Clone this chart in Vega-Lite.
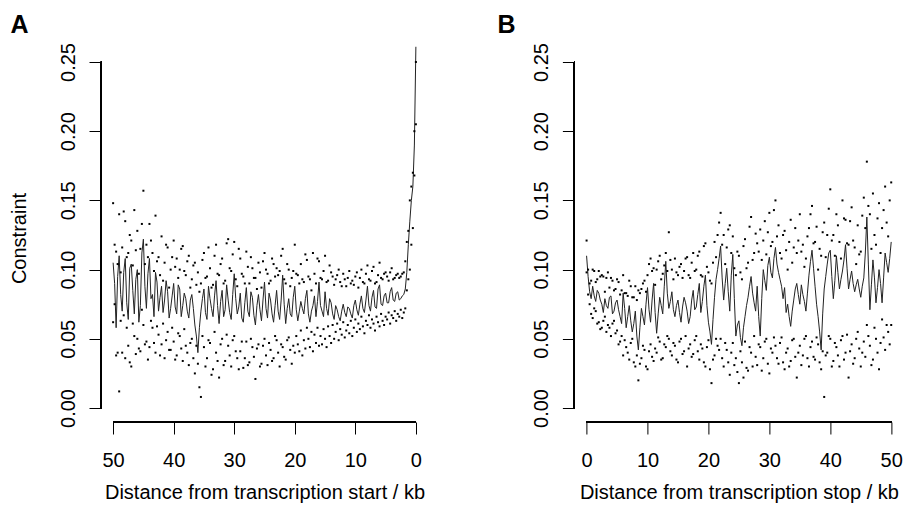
{
  "$schema": "https://vega.github.io/schema/vega-lite/v6.json",
  "background": "white",
  "padding": {"left": 9, "top": 12, "right": 0, "bottom": 0},
  "config": {
    "view": {"stroke": null},
    "font": "Liberation Sans",
    "axis": {"domain": false, "grid": false, "tickColor": "black", "tickSize": 12, "tickWidth": 1, "labelFont": "Liberation Sans", "labelFontSize": 20, "labelColor": "black", "labelFlush": false, "labelOverlap": false, "titleFont": "Liberation Sans", "titleFontSize": 20, "titleFontWeight": "normal", "titleColor": "black"},
    "axisX": {"labelPadding": 16},
    "axisY": {"labelAngle": 270, "labelAlign": "center", "labelBaseline": "alphabetic", "labelPadding": 15}
  },
  "datasets": {
    "a": [
      {"d":50,"m":0.105,"u":0.148,"l":0.062},{"d":49.75,"m":0.090,"u":0.118,"l":0.075},{"d":49.5,"m":0.058,"u":0.113,"l":0.038},{"d":49.25,"m":0.095,"u":0.104,"l":0.040},
      {"d":49,"m":0.110,"u":0.140,"l":0.012},{"d":48.75,"m":0.082,"u":0.098,"l":0.063},{"d":48.5,"m":0.070,"u":0.116,"l":0.040},{"d":48.25,"m":0.098,"u":0.142,"l":0.067},
      {"d":48,"m":0.108,"u":0.135,"l":0.036},{"d":47.75,"m":0.076,"u":0.109,"l":0.058},{"d":47.5,"m":0.064,"u":0.112,"l":0.045},{"d":47.25,"m":0.101,"u":0.125,"l":0.033},
      {"d":47,"m":0.104,"u":0.121,"l":0.030},{"d":46.75,"m":0.085,"u":0.103,"l":0.061},{"d":46.5,"m":0.068,"u":0.143,"l":0.052},{"d":46.25,"m":0.093,"u":0.114,"l":0.039},
      {"d":46,"m":0.100,"u":0.128,"l":0.050},{"d":45.75,"m":0.062,"u":0.097,"l":0.043},{"d":45.5,"m":0.074,"u":0.115,"l":0.041},{"d":45.25,"m":0.112,"u":0.133,"l":0.071},
      {"d":45,"m":0.122,"u":0.157,"l":0.060},{"d":44.75,"m":0.088,"u":0.104,"l":0.046},{"d":44.5,"m":0.072,"u":0.118,"l":0.048},{"d":44.25,"m":0.097,"u":0.109,"l":0.035},
      {"d":44,"m":0.108,"u":0.133,"l":0.044},{"d":43.75,"m":0.079,"u":0.121,"l":0.063},{"d":43.5,"m":0.082,"u":0.112,"l":0.058},{"d":43.25,"m":0.066,"u":0.099,"l":0.047},
      {"d":43,"m":0.098,"u":0.139,"l":0.040},{"d":42.75,"m":0.091,"u":0.106,"l":0.059},{"d":42.5,"m":0.070,"u":0.109,"l":0.053},{"d":42.25,"m":0.080,"u":0.096,"l":0.038},
      {"d":42,"m":0.088,"u":0.124,"l":0.046},{"d":41.75,"m":0.069,"u":0.092,"l":0.061},{"d":41.5,"m":0.078,"u":0.105,"l":0.036},{"d":41.25,"m":0.092,"u":0.118,"l":0.049},
      {"d":41,"m":0.084,"u":0.116,"l":0.055},{"d":40.75,"m":0.065,"u":0.087,"l":0.042},{"d":40.5,"m":0.072,"u":0.100,"l":0.042},{"d":40.25,"m":0.081,"u":0.109,"l":0.058},
      {"d":40,"m":0.090,"u":0.121,"l":0.048},{"d":39.75,"m":0.073,"u":0.102,"l":0.035},{"d":39.5,"m":0.068,"u":0.108,"l":0.038},{"d":39.25,"m":0.089,"u":0.094,"l":0.054},
      {"d":39,"m":0.086,"u":0.100,"l":0.052},{"d":38.75,"m":0.066,"u":0.115,"l":0.043},{"d":38.5,"m":0.074,"u":0.117,"l":0.034},{"d":38.25,"m":0.083,"u":0.099,"l":0.057},
      {"d":38,"m":0.079,"u":0.096,"l":0.045},{"d":37.75,"m":0.070,"u":0.106,"l":0.040},{"d":37.5,"m":0.065,"u":0.110,"l":0.031},{"d":37.25,"m":0.078,"u":0.087,"l":0.047},
      {"d":37,"m":0.082,"u":0.093,"l":0.050},{"d":36.75,"m":0.072,"u":0.103,"l":0.036},{"d":36.5,"m":0.060,"u":0.105,"l":0.025},{"d":36.25,"m":0.052,"u":0.089,"l":0.045},
      {"d":36,"m":0.040,"u":0.098,"l":0.032},{"d":35.75,"m":0.058,"u":0.084,"l":0.015},{"d":35.5,"m":0.070,"u":0.090,"l":0.008},{"d":35.25,"m":0.079,"u":0.107,"l":0.052},
      {"d":35,"m":0.086,"u":0.112,"l":0.044},{"d":34.75,"m":0.069,"u":0.094,"l":0.030},{"d":34.5,"m":0.064,"u":0.095,"l":0.036},{"d":34.25,"m":0.088,"u":0.116,"l":0.049},
      {"d":34,"m":0.079,"u":0.101,"l":0.047},{"d":33.75,"m":0.072,"u":0.087,"l":0.024},{"d":33.5,"m":0.066,"u":0.089,"l":0.028},{"d":33.25,"m":0.081,"u":0.110,"l":0.055},
      {"d":33,"m":0.092,"u":0.118,"l":0.040},{"d":32.75,"m":0.074,"u":0.097,"l":0.034},{"d":32.5,"m":0.061,"u":0.096,"l":0.022},{"d":32.25,"m":0.077,"u":0.104,"l":0.046},
      {"d":32,"m":0.085,"u":0.108,"l":0.050},{"d":31.75,"m":0.066,"u":0.090,"l":0.031},{"d":31.5,"m":0.071,"u":0.092,"l":0.034},{"d":31.25,"m":0.089,"u":0.119,"l":0.053},
      {"d":31,"m":0.078,"u":0.122,"l":0.045},{"d":30.75,"m":0.069,"u":0.101,"l":0.038},{"d":30.5,"m":0.064,"u":0.099,"l":0.030},{"d":30.25,"m":0.082,"u":0.111,"l":0.049},
      {"d":30,"m":0.097,"u":0.120,"l":0.052},{"d":29.75,"m":0.079,"u":0.093,"l":0.041},{"d":29.5,"m":0.068,"u":0.088,"l":0.036},{"d":29.25,"m":0.073,"u":0.115,"l":0.028},
      {"d":29,"m":0.083,"u":0.108,"l":0.041},{"d":28.75,"m":0.065,"u":0.097,"l":0.048},{"d":28.5,"m":0.062,"u":0.095,"l":0.029},{"d":28.25,"m":0.076,"u":0.090,"l":0.036},
      {"d":28,"m":0.087,"u":0.113,"l":0.048},{"d":27.75,"m":0.070,"u":0.102,"l":0.031},{"d":27.5,"m":0.066,"u":0.090,"l":0.033},{"d":27.25,"m":0.084,"u":0.109,"l":0.050},
      {"d":27,"m":0.080,"u":0.101,"l":0.044},{"d":26.75,"m":0.067,"u":0.094,"l":0.037},{"d":26.5,"m":0.060,"u":0.094,"l":0.021},{"d":26.25,"m":0.074,"u":0.086,"l":0.043},
      {"d":26,"m":0.082,"u":0.105,"l":0.046},{"d":25.75,"m":0.071,"u":0.098,"l":0.030},{"d":25.5,"m":0.063,"u":0.087,"l":0.032},{"d":25.25,"m":0.078,"u":0.106,"l":0.045},
      {"d":25,"m":0.091,"u":0.112,"l":0.050},{"d":24.75,"m":0.072,"u":0.100,"l":0.038},{"d":24.5,"m":0.065,"u":0.097,"l":0.031},{"d":24.25,"m":0.083,"u":0.090,"l":0.047},
      {"d":24,"m":0.078,"u":0.092,"l":0.042},{"d":23.75,"m":0.068,"u":0.108,"l":0.034},{"d":23.5,"m":0.062,"u":0.104,"l":0.036},{"d":23.25,"m":0.074,"u":0.095,"l":0.052},
      {"d":23,"m":0.085,"u":0.101,"l":0.049},{"d":22.75,"m":0.070,"u":0.096,"l":0.040},{"d":22.5,"m":0.064,"u":0.099,"l":0.030},{"d":22.25,"m":0.078,"u":0.110,"l":0.046},
      {"d":22,"m":0.096,"u":0.115,"l":0.044},{"d":21.75,"m":0.075,"u":0.093,"l":0.037},{"d":21.5,"m":0.061,"u":0.090,"l":0.035},{"d":21.25,"m":0.072,"u":0.104,"l":0.049},
      {"d":21,"m":0.079,"u":0.100,"l":0.051},{"d":20.75,"m":0.068,"u":0.088,"l":0.042},{"d":20.5,"m":0.066,"u":0.094,"l":0.032},{"d":20.25,"m":0.080,"u":0.099,"l":0.045},
      {"d":20,"m":0.088,"u":0.118,"l":0.040},{"d":19.75,"m":0.071,"u":0.097,"l":0.052},{"d":19.5,"m":0.063,"u":0.096,"l":0.046},{"d":19.25,"m":0.070,"u":0.090,"l":0.041},
      {"d":19,"m":0.077,"u":0.104,"l":0.056},{"d":18.75,"m":0.072,"u":0.093,"l":0.038},{"d":18.5,"m":0.068,"u":0.091,"l":0.049},{"d":18.25,"m":0.079,"u":0.111,"l":0.043},
      {"d":18,"m":0.085,"u":0.107,"l":0.058},{"d":17.75,"m":0.068,"u":0.095,"l":0.050},{"d":17.5,"m":0.062,"u":0.093,"l":0.044},{"d":17.25,"m":0.070,"u":0.085,"l":0.055},
      {"d":17,"m":0.074,"u":0.112,"l":0.041},{"d":16.75,"m":0.081,"u":0.097,"l":0.053},{"d":16.5,"m":0.066,"u":0.090,"l":0.047},{"d":16.25,"m":0.077,"u":0.108,"l":0.058},
      {"d":16,"m":0.091,"u":0.106,"l":0.045},{"d":15.75,"m":0.074,"u":0.094,"l":0.052},{"d":15.5,"m":0.070,"u":0.093,"l":0.046},{"d":15.25,"m":0.066,"u":0.099,"l":0.057},
      {"d":15,"m":0.084,"u":0.110,"l":0.050},{"d":14.75,"m":0.072,"u":0.091,"l":0.044},{"d":14.5,"m":0.067,"u":0.092,"l":0.059},{"d":14.25,"m":0.079,"u":0.103,"l":0.052},
      {"d":14,"m":0.076,"u":0.098,"l":0.047},{"d":13.75,"m":0.068,"u":0.095,"l":0.060},{"d":13.5,"m":0.064,"u":0.089,"l":0.050},{"d":13.25,"m":0.074,"u":0.093,"l":0.055},
      {"d":13,"m":0.071,"u":0.096,"l":0.061},{"d":12.75,"m":0.066,"u":0.100,"l":0.049},{"d":12.5,"m":0.063,"u":0.091,"l":0.057},{"d":12.25,"m":0.070,"u":0.088,"l":0.053},
      {"d":12,"m":0.075,"u":0.097,"l":0.062},{"d":11.75,"m":0.069,"u":0.093,"l":0.051},{"d":11.5,"m":0.066,"u":0.088,"l":0.056},{"d":11.25,"m":0.073,"u":0.094,"l":0.060},
      {"d":11,"m":0.072,"u":0.099,"l":0.054},{"d":10.75,"m":0.068,"u":0.090,"l":0.063},{"d":10.5,"m":0.065,"u":0.092,"l":0.052},{"d":10.25,"m":0.074,"u":0.089,"l":0.058},
      {"d":10,"m":0.078,"u":0.095,"l":0.064},{"d":9.75,"m":0.071,"u":0.098,"l":0.055},{"d":9.5,"m":0.067,"u":0.087,"l":0.061},{"d":9.25,"m":0.075,"u":0.094,"l":0.057},
      {"d":9,"m":0.081,"u":0.100,"l":0.066},{"d":8.75,"m":0.072,"u":0.091,"l":0.059},{"d":8.5,"m":0.069,"u":0.090,"l":0.054},{"d":8.25,"m":0.078,"u":0.097,"l":0.063},
      {"d":8,"m":0.088,"u":0.103,"l":0.060},{"d":7.75,"m":0.074,"u":0.093,"l":0.067},{"d":7.5,"m":0.070,"u":0.092,"l":0.058},{"d":7.25,"m":0.080,"u":0.099,"l":0.064},
      {"d":7,"m":0.085,"u":0.102,"l":0.061},{"d":6.75,"m":0.073,"u":0.090,"l":0.056},{"d":6.5,"m":0.072,"u":0.091,"l":0.066},{"d":6.25,"m":0.086,"u":0.096,"l":0.062},
      {"d":6,"m":0.089,"u":0.105,"l":0.059},{"d":5.75,"m":0.075,"u":0.094,"l":0.068},{"d":5.5,"m":0.074,"u":0.093,"l":0.063},{"d":5.25,"m":0.081,"u":0.097,"l":0.060},
      {"d":5,"m":0.083,"u":0.098,"l":0.066},{"d":4.75,"m":0.076,"u":0.095,"l":0.064},{"d":4.5,"m":0.076,"u":0.092,"l":0.069},{"d":4.25,"m":0.084,"u":0.098,"l":0.061},
      {"d":4,"m":0.087,"u":0.101,"l":0.067},{"d":3.75,"m":0.078,"u":0.093,"l":0.065},{"d":3.5,"m":0.077,"u":0.094,"l":0.070},{"d":3.25,"m":0.083,"u":0.096,"l":0.063},
      {"d":3,"m":0.084,"u":0.097,"l":0.068},{"d":2.75,"m":0.078,"u":0.094,"l":0.066},{"d":2.5,"m":0.079,"u":0.095,"l":0.071},{"d":2.25,"m":0.081,"u":0.097,"l":0.065},
      {"d":2,"m":0.082,"u":0.098,"l":0.069},{"d":1.75,"m":0.086,"u":0.106,"l":0.072},{"d":1.5,"m":0.098,"u":0.120,"l":0.085},{"d":1.25,"m":0.118,"u":0.128,"l":0.093},
      {"d":1,"m":0.135,"u":0.150,"l":0.100},{"d":0.75,"m":0.150,"u":0.160,"l":0.118},{"d":0.5,"m":0.160,"u":0.170,"l":0.130},{"d":0.25,"m":0.190,"u":0.200,"l":0.168},
      {"d":0,"m":0.261,"u":0.250,"l":0.205}
    ],
    "b": [
      {"d":0,"m":0.110,"u":0.121,"l":0.098},{"d":0.25,"m":0.095,"u":0.100,"l":0.082},{"d":0.5,"m":0.084,"u":0.090,"l":0.075},{"d":0.75,"m":0.079,"u":0.092,"l":0.068},
      {"d":1,"m":0.088,"u":0.100,"l":0.065},{"d":1.25,"m":0.081,"u":0.099,"l":0.072},{"d":1.5,"m":0.077,"u":0.091,"l":0.070},{"d":1.75,"m":0.085,"u":0.093,"l":0.061},
      {"d":2,"m":0.083,"u":0.099,"l":0.062},{"d":2.25,"m":0.078,"u":0.095,"l":0.057},{"d":2.5,"m":0.075,"u":0.096,"l":0.058},{"d":2.75,"m":0.069,"u":0.095,"l":0.063},
      {"d":3,"m":0.079,"u":0.084,"l":0.066},{"d":3.25,"m":0.074,"u":0.094,"l":0.055},{"d":3.5,"m":0.072,"u":0.098,"l":0.060},{"d":3.75,"m":0.080,"u":0.087,"l":0.058},
      {"d":4,"m":0.081,"u":0.094,"l":0.052},{"d":4.25,"m":0.068,"u":0.092,"l":0.061},{"d":4.5,"m":0.070,"u":0.085,"l":0.063},{"d":4.75,"m":0.076,"u":0.086,"l":0.054},
      {"d":5,"m":0.078,"u":0.093,"l":0.056},{"d":5.25,"m":0.071,"u":0.091,"l":0.046},{"d":5.5,"m":0.066,"u":0.082,"l":0.048},{"d":5.75,"m":0.061,"u":0.085,"l":0.052},
      {"d":6,"m":0.083,"u":0.096,"l":0.038},{"d":6.25,"m":0.072,"u":0.083,"l":0.049},{"d":6.5,"m":0.058,"u":0.083,"l":0.044},{"d":6.75,"m":0.066,"u":0.081,"l":0.040},
      {"d":7,"m":0.074,"u":0.092,"l":0.035},{"d":7.25,"m":0.063,"u":0.088,"l":0.047},{"d":7.5,"m":0.055,"u":0.080,"l":0.050},{"d":7.75,"m":0.061,"u":0.080,"l":0.033},
      {"d":8,"m":0.070,"u":0.088,"l":0.030},{"d":8.25,"m":0.052,"u":0.078,"l":0.038},{"d":8.5,"m":0.042,"u":0.085,"l":0.020},{"d":8.75,"m":0.058,"u":0.083,"l":0.032},
      {"d":9,"m":0.072,"u":0.086,"l":0.036},{"d":9.25,"m":0.066,"u":0.090,"l":0.045},{"d":9.5,"m":0.060,"u":0.092,"l":0.042},{"d":9.75,"m":0.075,"u":0.084,"l":0.030},
      {"d":10,"m":0.087,"u":0.096,"l":0.028},{"d":10.25,"m":0.071,"u":0.104,"l":0.041},{"d":10.5,"m":0.062,"u":0.108,"l":0.046},{"d":10.75,"m":0.078,"u":0.099,"l":0.037},
      {"d":11,"m":0.090,"u":0.101,"l":0.034},{"d":11.25,"m":0.069,"u":0.089,"l":0.043},{"d":11.5,"m":0.054,"u":0.100,"l":0.040},{"d":11.75,"m":0.068,"u":0.106,"l":0.051},
      {"d":12,"m":0.080,"u":0.110,"l":0.048},{"d":12.25,"m":0.074,"u":0.093,"l":0.035},{"d":12.5,"m":0.068,"u":0.097,"l":0.036},{"d":12.75,"m":0.088,"u":0.103,"l":0.046},
      {"d":13,"m":0.106,"u":0.112,"l":0.044},{"d":13.25,"m":0.083,"u":0.099,"l":0.052},{"d":13.5,"m":0.072,"u":0.127,"l":0.050},{"d":13.75,"m":0.077,"u":0.107,"l":0.041},
      {"d":14,"m":0.084,"u":0.100,"l":0.038},{"d":14.25,"m":0.071,"u":0.093,"l":0.047},{"d":14.5,"m":0.066,"u":0.108,"l":0.045},{"d":14.75,"m":0.074,"u":0.098,"l":0.035},
      {"d":15,"m":0.078,"u":0.096,"l":0.033},{"d":15.25,"m":0.069,"u":0.102,"l":0.048},{"d":15.5,"m":0.062,"u":0.104,"l":0.050},{"d":15.75,"m":0.073,"u":0.094,"l":0.039},
      {"d":16,"m":0.080,"u":0.099,"l":0.041},{"d":16.25,"m":0.076,"u":0.108,"l":0.052},{"d":16.5,"m":0.070,"u":0.109,"l":0.030},{"d":16.75,"m":0.061,"u":0.096,"l":0.043},
      {"d":17,"m":0.066,"u":0.094,"l":0.046},{"d":17.25,"m":0.078,"u":0.105,"l":0.037},{"d":17.5,"m":0.085,"u":0.112,"l":0.039},{"d":17.75,"m":0.071,"u":0.099,"l":0.049},
      {"d":18,"m":0.073,"u":0.100,"l":0.052},{"d":18.25,"m":0.082,"u":0.110,"l":0.041},{"d":18.5,"m":0.090,"u":0.113,"l":0.035},{"d":18.75,"m":0.069,"u":0.096,"l":0.046},
      {"d":19,"m":0.077,"u":0.095,"l":0.043},{"d":19.25,"m":0.088,"u":0.117,"l":0.033},{"d":19.5,"m":0.096,"u":0.119,"l":0.030},{"d":19.75,"m":0.074,"u":0.102,"l":0.044},
      {"d":20,"m":0.062,"u":0.098,"l":0.049},{"d":20.25,"m":0.055,"u":0.092,"l":0.028},{"d":20.5,"m":0.046,"u":0.090,"l":0.018},{"d":20.75,"m":0.064,"u":0.105,"l":0.035},
      {"d":21,"m":0.080,"u":0.120,"l":0.038},{"d":21.25,"m":0.093,"u":0.109,"l":0.050},{"d":21.5,"m":0.100,"u":0.125,"l":0.045},{"d":21.75,"m":0.108,"u":0.134,"l":0.042},
      {"d":22,"m":0.117,"u":0.141,"l":0.050},{"d":22.25,"m":0.094,"u":0.118,"l":0.036},{"d":22.5,"m":0.078,"u":0.125,"l":0.030},{"d":22.75,"m":0.090,"u":0.104,"l":0.047},
      {"d":23,"m":0.101,"u":0.116,"l":0.042},{"d":23.25,"m":0.084,"u":0.129,"l":0.033},{"d":23.5,"m":0.070,"u":0.132,"l":0.024},{"d":23.75,"m":0.096,"u":0.112,"l":0.040},
      {"d":24,"m":0.111,"u":0.124,"l":0.047},{"d":24.25,"m":0.079,"u":0.101,"l":0.031},{"d":24.5,"m":0.052,"u":0.096,"l":0.036},{"d":24.75,"m":0.060,"u":0.113,"l":0.026},
      {"d":25,"m":0.063,"u":0.110,"l":0.018},{"d":25.25,"m":0.051,"u":0.098,"l":0.041},{"d":25.5,"m":0.045,"u":0.093,"l":0.033},{"d":25.75,"m":0.058,"u":0.117,"l":0.022},
      {"d":26,"m":0.066,"u":0.122,"l":0.048},{"d":26.25,"m":0.074,"u":0.101,"l":0.029},{"d":26.5,"m":0.080,"u":0.105,"l":0.027},{"d":26.75,"m":0.088,"u":0.131,"l":0.044},
      {"d":27,"m":0.095,"u":0.138,"l":0.040},{"d":27.25,"m":0.083,"u":0.107,"l":0.030},{"d":27.5,"m":0.076,"u":0.112,"l":0.052},{"d":27.75,"m":0.070,"u":0.126,"l":0.037},
      {"d":28,"m":0.088,"u":0.119,"l":0.031},{"d":28.25,"m":0.066,"u":0.113,"l":0.046},{"d":28.5,"m":0.052,"u":0.129,"l":0.044},{"d":28.75,"m":0.079,"u":0.107,"l":0.027},
      {"d":29,"m":0.100,"u":0.121,"l":0.036},{"d":29.25,"m":0.092,"u":0.135,"l":0.048},{"d":29.5,"m":0.085,"u":0.111,"l":0.050},{"d":29.75,"m":0.103,"u":0.127,"l":0.032},
      {"d":30,"m":0.109,"u":0.141,"l":0.025},{"d":30.25,"m":0.098,"u":0.117,"l":0.043},{"d":30.5,"m":0.094,"u":0.120,"l":0.040},{"d":30.75,"m":0.108,"u":0.143,"l":0.051},
      {"d":31,"m":0.116,"u":0.150,"l":0.045},{"d":31.25,"m":0.104,"u":0.124,"l":0.036},{"d":31.5,"m":0.098,"u":0.132,"l":0.032},{"d":31.75,"m":0.093,"u":0.112,"l":0.047},
      {"d":32,"m":0.088,"u":0.108,"l":0.051},{"d":32.25,"m":0.079,"u":0.125,"l":0.033},{"d":32.5,"m":0.087,"u":0.128,"l":0.028},{"d":32.75,"m":0.069,"u":0.114,"l":0.040},
      {"d":33,"m":0.075,"u":0.100,"l":0.043},{"d":33.25,"m":0.066,"u":0.120,"l":0.030},{"d":33.5,"m":0.059,"u":0.136,"l":0.034},{"d":33.75,"m":0.070,"u":0.105,"l":0.049},
      {"d":34,"m":0.078,"u":0.116,"l":0.050},{"d":34.25,"m":0.086,"u":0.130,"l":0.037},{"d":34.5,"m":0.090,"u":0.112,"l":0.022},{"d":34.75,"m":0.082,"u":0.121,"l":0.040},
      {"d":35,"m":0.075,"u":0.140,"l":0.045},{"d":35.25,"m":0.089,"u":0.113,"l":0.031},{"d":35.5,"m":0.082,"u":0.118,"l":0.038},{"d":35.75,"m":0.077,"u":0.102,"l":0.050},
      {"d":36,"m":0.070,"u":0.108,"l":0.052},{"d":36.25,"m":0.083,"u":0.124,"l":0.036},{"d":36.5,"m":0.096,"u":0.130,"l":0.030},{"d":36.75,"m":0.106,"u":0.140,"l":0.044},
      {"d":37,"m":0.114,"u":0.146,"l":0.048},{"d":37.25,"m":0.101,"u":0.119,"l":0.037},{"d":37.5,"m":0.088,"u":0.120,"l":0.035},{"d":37.75,"m":0.075,"u":0.131,"l":0.051},
      {"d":38,"m":0.066,"u":0.100,"l":0.046},{"d":38.25,"m":0.055,"u":0.115,"l":0.033},{"d":38.5,"m":0.042,"u":0.110,"l":0.028},{"d":38.75,"m":0.068,"u":0.127,"l":0.041},
      {"d":39,"m":0.086,"u":0.134,"l":0.008},{"d":39.25,"m":0.095,"u":0.109,"l":0.038},{"d":39.5,"m":0.104,"u":0.125,"l":0.040},{"d":39.75,"m":0.112,"u":0.144,"l":0.052},
      {"d":40,"m":0.114,"u":0.158,"l":0.050},{"d":40.25,"m":0.095,"u":0.121,"l":0.030},{"d":40.5,"m":0.079,"u":0.125,"l":0.034},{"d":40.75,"m":0.092,"u":0.110,"l":0.047},
      {"d":41,"m":0.110,"u":0.140,"l":0.044},{"d":41.25,"m":0.098,"u":0.132,"l":0.038},{"d":41.5,"m":0.086,"u":0.120,"l":0.030},{"d":41.75,"m":0.093,"u":0.108,"l":0.049},
      {"d":42,"m":0.099,"u":0.150,"l":0.052},{"d":42.25,"m":0.107,"u":0.137,"l":0.035},{"d":42.5,"m":0.118,"u":0.136,"l":0.040},{"d":42.75,"m":0.101,"u":0.119,"l":0.053},
      {"d":43,"m":0.086,"u":0.118,"l":0.022},{"d":43.25,"m":0.093,"u":0.135,"l":0.041},{"d":43.5,"m":0.099,"u":0.145,"l":0.046},{"d":43.75,"m":0.090,"u":0.121,"l":0.032},
      {"d":44,"m":0.084,"u":0.116,"l":0.036},{"d":44.25,"m":0.089,"u":0.104,"l":0.050},{"d":44.5,"m":0.093,"u":0.132,"l":0.055},{"d":44.75,"m":0.086,"u":0.111,"l":0.043},
      {"d":45,"m":0.080,"u":0.113,"l":0.030},{"d":45.25,"m":0.088,"u":0.139,"l":0.040},{"d":45.5,"m":0.094,"u":0.152,"l":0.048},{"d":45.75,"m":0.112,"u":0.130,"l":0.037},
      {"d":46,"m":0.138,"u":0.178,"l":0.060},{"d":46.25,"m":0.104,"u":0.146,"l":0.052},{"d":46.5,"m":0.071,"u":0.140,"l":0.045},{"d":46.75,"m":0.089,"u":0.115,"l":0.031},
      {"d":47,"m":0.107,"u":0.155,"l":0.035},{"d":47.25,"m":0.094,"u":0.125,"l":0.058},{"d":47.5,"m":0.076,"u":0.118,"l":0.050},{"d":47.75,"m":0.087,"u":0.137,"l":0.040},
      {"d":48,"m":0.100,"u":0.148,"l":0.028},{"d":48.25,"m":0.090,"u":0.112,"l":0.047},{"d":48.5,"m":0.076,"u":0.130,"l":0.064},{"d":48.75,"m":0.094,"u":0.143,"l":0.051},
      {"d":49,"m":0.112,"u":0.160,"l":0.042},{"d":49.25,"m":0.105,"u":0.134,"l":0.060},{"d":49.5,"m":0.098,"u":0.124,"l":0.055},{"d":49.75,"m":0.108,"u":0.150,"l":0.046},
      {"d":50,"m":0.120,"u":0.163,"l":0.060}
    ]
  },
  "bounds": "flush",
  "spacing": 146.4,
  "hconcat": [
    {
      "width": 327,
      "height": 378,
      "data": {"name": "a"},
      "title": {"text": "A", "anchor": "start", "frame": "group", "dx": -90.6, "offset": -15, "baseline": "alphabetic", "fontSize": 25, "fontWeight": "bold", "color": "black", "font": "Liberation Sans"},
      "encoding": {
        "x": {"field": "d", "type": "quantitative", "scale": {"domain": [-2, 52], "reverse": true, "nice": false, "zero": false},
              "axis": {"values": [50, 40, 30, 20, 10, 0], "format": "d", "title": "Distance from transcription start / kb", "titleX": 163.5, "titleY": 76.7, "titleAlign": "center", "titleBaseline": "alphabetic"}}
      },
      "layer": [
        {"mark": {"type": "line", "color": "#222222", "strokeWidth": 1, "clip": true},
         "encoding": {"y": {"field": "m", "type": "quantitative", "scale": {"domain": [-0.0101, 0.263], "nice": false, "zero": false},
           "axis": {"values": [0, 0.05, 0.1, 0.15, 0.2, 0.25], "format": ".2f", "title": "Constraint", "titleAngle": 270, "titleAlign": "center", "titleBaseline": "alphabetic", "titleX": -75.6, "titleY": 194}}}},
        {"mark": {"type": "square", "size": 4, "color": "black", "opacity": 1}, "encoding": {"y": {"field": "u", "type": "quantitative"}}},
        {"mark": {"type": "square", "size": 4, "color": "black", "opacity": 1}, "encoding": {"y": {"field": "l", "type": "quantitative"}}},
        {"mark": {"type": "rule", "color": "black", "strokeWidth": 1},
         "encoding": {"x": {"datum": 52, "type": "quantitative"}, "y": {"datum": 0, "type": "quantitative"}, "y2": {"datum": 0.25}}},
        {"mark": {"type": "rule", "color": "black", "strokeWidth": 1},
         "encoding": {"x": {"datum": 50, "type": "quantitative"}, "x2": {"datum": 0}, "y": {"datum": -0.0101, "type": "quantitative"}}}
      ]
    },
    {
      "width": 329,
      "height": 378,
      "data": {"name": "b"},
      "title": {"text": "B", "anchor": "start", "frame": "group", "dx": -76.8, "offset": -15, "baseline": "alphabetic", "fontSize": 25, "fontWeight": "bold", "color": "black", "font": "Liberation Sans"},
      "encoding": {
        "x": {"field": "d", "type": "quantitative", "scale": {"domain": [-2, 52], "nice": false, "zero": false},
              "axis": {"values": [0, 10, 20, 30, 40, 50], "format": "d", "title": "Distance from transcription stop / kb", "titleX": 164.5, "titleY": 76.7, "titleAlign": "center", "titleBaseline": "alphabetic"}}
      },
      "layer": [
        {"mark": {"type": "line", "color": "#222222", "strokeWidth": 1, "clip": true},
         "encoding": {"y": {"field": "m", "type": "quantitative", "scale": {"domain": [-0.0101, 0.263], "nice": false, "zero": false},
           "axis": {"values": [0, 0.05, 0.1, 0.15, 0.2, 0.25], "format": ".2f", "title": null}}}},
        {"mark": {"type": "square", "size": 4, "color": "black", "opacity": 1}, "encoding": {"y": {"field": "u", "type": "quantitative", "title": null}}},
        {"mark": {"type": "square", "size": 4, "color": "black", "opacity": 1}, "encoding": {"y": {"field": "l", "type": "quantitative", "title": null}}},
        {"mark": {"type": "rule", "color": "black", "strokeWidth": 1},
         "encoding": {"x": {"datum": -2, "type": "quantitative"}, "y": {"datum": 0, "type": "quantitative"}, "y2": {"datum": 0.25}}},
        {"mark": {"type": "rule", "color": "black", "strokeWidth": 1},
         "encoding": {"x": {"datum": 0, "type": "quantitative"}, "x2": {"datum": 50}, "y": {"datum": -0.0101, "type": "quantitative"}}}
      ]
    }
  ]
}
